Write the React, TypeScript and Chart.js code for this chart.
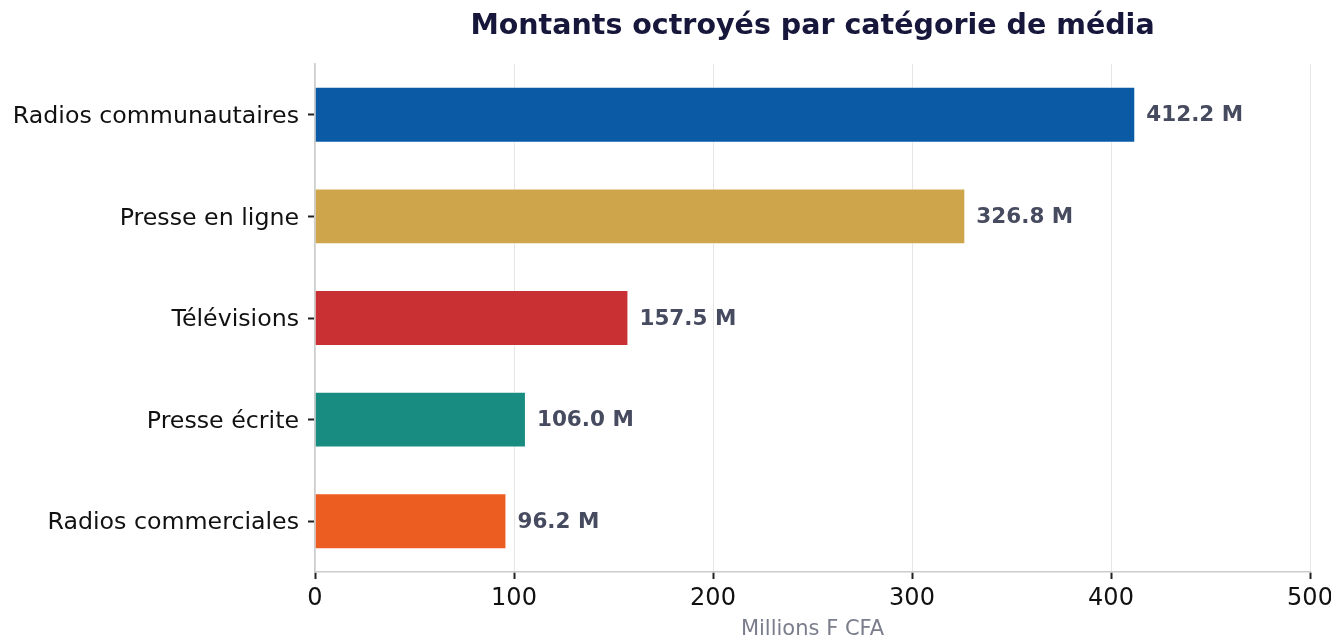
import React, { useEffect, useRef } from "react";
import { Chart, registerables } from "chart.js";

Chart.register(...registerables);

const categories = [
  "Radios communautaires",
  "Presse en ligne",
  "Télévisions",
  "Presse écrite",
  "Radios commerciales",
];
const amounts = [412.2, 326.8, 157.5, 106.0, 96.2];
const barColors = ["#0b5aa5", "#cfa54c", "#c83033", "#188c80", "#ec5d21"];
const xTicks = [0, 100, 200, 300, 400, 500];
const chartTitle = "Montants octroyés par catégorie de média";
const xTitle = "Millions F CFA";
const unitSuffix = " M";

const FONT = "'DejaVu Sans', sans-serif";

const titlePlugin = {
  id: "centeredTitle",
  afterDraw(chart: any) {
    const { ctx, chartArea } = chart;
    ctx.save();
    ctx.font = `bold 28.5px ${FONT}`;
    ctx.fillStyle = "#16173a";
    ctx.textAlign = "center";
    ctx.textBaseline = "middle";
    ctx.fillText(chartTitle, (chartArea.left + chartArea.right) / 2, 27);
    ctx.restore();
  },
};

const valueLabelPlugin = {
  id: "valueLabels",
  afterDatasetsDraw(chart: any) {
    const { ctx } = chart;
    const meta = chart.getDatasetMeta(0);
    ctx.save();
    ctx.font = `bold 21.5px ${FONT}`;
    ctx.fillStyle = "#474b5f";
    ctx.textAlign = "left";
    ctx.textBaseline = "middle";
    meta.data.forEach((bar: any, i: number) => {
      ctx.fillText(amounts[i].toFixed(1) + unitSuffix, bar.x + 11, bar.y + 1);
    });
    ctx.restore();
  },
};

export default function App() {
  const canvasRef = useRef<HTMLCanvasElement | null>(null);

  useEffect(() => {
    document.body.style.margin = "0";
    const canvas = canvasRef.current;
    if (!canvas) return;
    const chart = new Chart(canvas, {
      type: "bar",
      data: {
        labels: categories,
        datasets: [
          {
            data: amounts,
            backgroundColor: barColors,
            borderColor: "rgba(255,255,255,0.5)",
            borderWidth: 1,
            barPercentage: 0.55,
            categoryPercentage: 1,
          },
        ],
      },
      options: {
        indexAxis: "y",
        responsive: false,
        animation: false,
        devicePixelRatio: 1,
        layout: { padding: { top: 64, right: 21, left: 0, bottom: 0 } },
        plugins: {
          legend: { display: false },
          title: { display: false },
          tooltip: { enabled: false },
        },
        scales: {
          x: {
            type: "linear",
            min: xTicks[0],
            max: xTicks[xTicks.length - 1],
            afterBuildTicks(scale: any) {
              scale.ticks = xTicks.map((v) => ({ value: v }));
            },
            afterFit(scale: any) {
              scale.height = 68;
              scale.paddingRight = 0;
              scale.paddingLeft = 0;
            },
            grid: {
              color: "#e6e6e6",
              lineWidth: 1,
              tickColor: "#222222",
              tickWidth: 2,
              tickLength: 7,
            },
            border: { color: "#cccccc", width: 1.5 },
            ticks: {
              color: "#111111",
              font: { family: FONT, size: 24 },
              padding: 5,
              maxRotation: 0,
            },
            title: {
              display: true,
              text: xTitle,
              color: "#7a7d8c",
              font: { family: FONT, size: 21, lineHeight: 1 },
              padding: { top: 0, bottom: 0 },
            },
          },
          y: {
            afterFit(scale: any) {
              scale.width = 315;
            },
            grid: {
              offset: false,
              drawOnChartArea: false,
              tickColor: "#222222",
              tickWidth: 2,
              tickLength: 7,
            },
            border: { color: "#cccccc", width: 1.5 },
            ticks: {
              color: "#111111",
              font: { family: FONT, size: 23.7 },
              padding: 9,
              labelOffset: 2,
            },
          },
        },
      },
      plugins: [titlePlugin, valueLabelPlugin],
    } as any);
    return () => chart.destroy();
  }, []);

  return (
    <div style={{ width: 1331, height: 640, background: "#ffffff" }}>
      <canvas ref={canvasRef} width={1331} height={640} style={{ display: "block" }} />
    </div>
  );
}
